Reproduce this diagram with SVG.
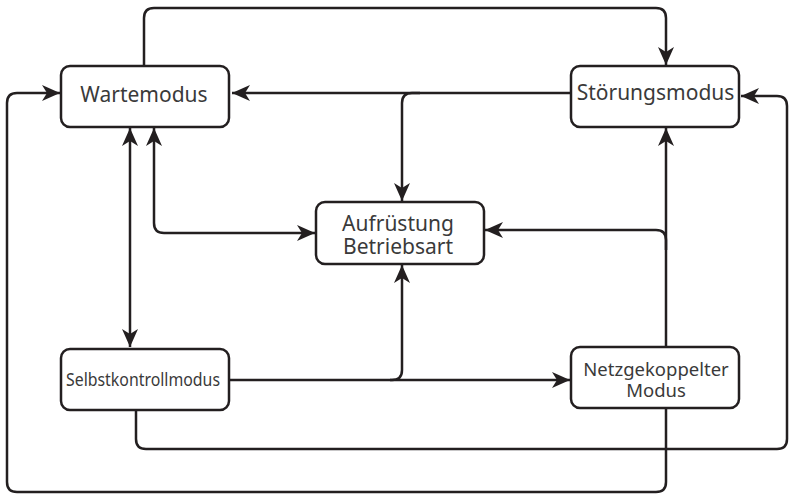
<svg xmlns="http://www.w3.org/2000/svg" width="789" height="494" viewBox="0 0 789 494">
<style>
.box{fill:#fff;stroke:#231f20;stroke-width:2.5}
.lbl{font-family:"Noto Sans","Open Sans","DejaVu Sans",sans-serif;fill:#3a3a3a;text-anchor:middle}
.c{fill:none;stroke:#231f20;stroke-width:2.5}
</style>
<defs>
<marker id="ah" markerUnits="userSpaceOnUse" viewBox="0 0 18 16" markerWidth="18" markerHeight="16" refX="18" refY="8" orient="auto-start-reverse">
<path d="M0,0 L18,8 L0,16 L5,8 Z" fill="#231f20"/>
</marker>
</defs>
<rect width="789" height="494" fill="#fff"/>
<g id="connectors">
<path class="c" d="M144,66 V18 Q144,8 154,8 H656 Q666,8 666,18 V65" marker-end="url(#ah)"/>
<path class="c" d="M571,93 H232" marker-end="url(#ah)"/>
<path class="c" d="M420,93 H412 Q402,93 402,103 V201" marker-end="url(#ah)"/>
<path class="c" d="M130,128 V347" marker-start="url(#ah)" marker-end="url(#ah)"/>
<path class="c" d="M154,128 V223 Q154,233 164,233 H315" marker-start="url(#ah)" marker-end="url(#ah)"/>
<path class="c" d="M666,409 V482 Q666,492 656,492 H17 Q7,492 7,482 V103 Q7,93 17,93 H60" marker-end="url(#ah)"/>
<path class="c" d="M230,380 H570" marker-end="url(#ah)"/>
<path class="c" d="M390,380 H392 Q402,380 402,370 V265" marker-end="url(#ah)"/>
<path class="c" d="M136,411 V439 Q136,449 146,449 H777 Q787,449 787,439 V106 Q787,96 777,96 H741" marker-end="url(#ah)"/>
<path class="c" d="M666,346 V128" marker-end="url(#ah)"/>
<path class="c" d="M666,250 V240 Q666,230 656,230 H485" marker-end="url(#ah)"/>
</g>
<g id="wartemodus">
<rect class="box" x="61" y="66" width="168" height="61" rx="9"/>
<text class="lbl" x="144" y="101.5" font-size="21">Wartemodus</text>
</g>
<g id="stoerungsmodus">
<rect class="box" x="571" y="66" width="168" height="61" rx="9"/>
<text class="lbl" x="655.5" y="100" font-size="21">Störungsmodus</text>
</g>
<g id="aufruestung">
<rect class="box" x="316" y="202" width="168" height="62" rx="9"/>
<text class="lbl" x="398" y="231" font-size="21">Aufrüstung</text>
<text class="lbl" x="398" y="254" font-size="21">Betriebsart</text>
</g>
<g id="selbstkontrollmodus">
<rect class="box" x="61" y="349" width="168" height="61" rx="9"/>
<text class="lbl" x="143" y="385.5" font-size="18.5" textLength="154" lengthAdjust="spacingAndGlyphs">Selbstkontrollmodus</text>
</g>
<g id="netzgekoppelter">
<rect class="box" x="571" y="347" width="168" height="61" rx="9"/>
<text class="lbl" x="656" y="376" font-size="18.5">Netzgekoppelter</text>
<text class="lbl" x="656" y="397" font-size="18.5">Modus</text>
</g>
</svg>
